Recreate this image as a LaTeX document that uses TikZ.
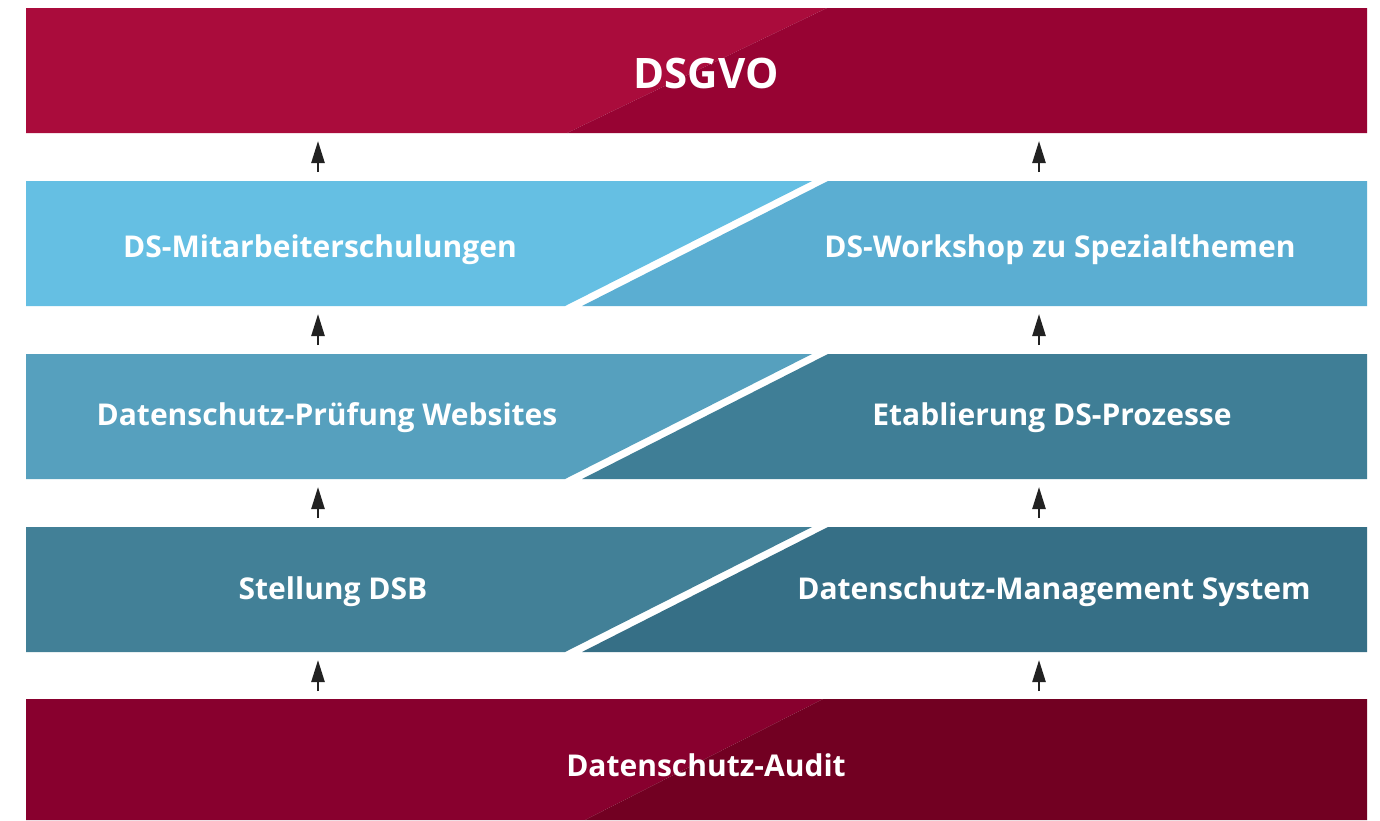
\documentclass[tikz,border=0pt]{standalone}
\usepackage{fontspec}
\setmainfont{Open Sans}
\usetikzlibrary{arrows.meta}
\definecolor{topL}{HTML}{AA0C3C}
\definecolor{topR}{HTML}{970333}
\definecolor{botL}{HTML}{88002E}
\definecolor{botR}{HTML}{720022}
\definecolor{bAL}{HTML}{65BFE3}
\definecolor{bAR}{HTML}{5BAED2}
\definecolor{bBL}{HTML}{56A0BE}
\definecolor{bBR}{HTML}{3F7E96}
\definecolor{bCL}{HTML}{428097}
\definecolor{bCR}{HTML}{366F86}
\definecolor{arrc}{HTML}{222222}
\tikzset{
  lbl/.style={text=white,font=\bfseries\fontsize{30}{36}\selectfont,inner sep=0pt},
  biglbl/.style={text=white,font=\bfseries\fontsize{42}{48}\selectfont,inner sep=0pt},
  arr/.style={draw=arrc,line width=2.4pt,-{Triangle[width=13pt,length=22pt]}}
}
\begin{document}
\begin{tikzpicture}[x=1pt,y=-1pt]
\useasboundingbox[fill=white] (0,0) rectangle (1380,820);
% top band
\fill[topL] (26,8) -- (827,8) -- (567,133) -- (26,133) -- cycle;
\fill[topR] (827,8) -- (1367,8) -- (1367,133) -- (567,133) -- cycle;
% band A
\fill[bAL] (26,181) -- (812,181) -- (565,306) -- (26,306) -- cycle;
\fill[bAR] (828,181) -- (1367,181) -- (1367,306) -- (582,306) -- cycle;
% band B
\fill[bBL] (26,354) -- (812,354) -- (565,479) -- (26,479) -- cycle;
\fill[bBR] (828,354) -- (1367,354) -- (1367,479) -- (582,479) -- cycle;
% band C
\fill[bCL] (26,527) -- (812,527) -- (565,652) -- (26,652) -- cycle;
\fill[bCR] (828,527) -- (1367,527) -- (1367,652) -- (582,652) -- cycle;
% bottom band
\fill[botL] (26,699) -- (823,699) -- (585,820) -- (26,820) -- cycle;
\fill[botR] (823,699) -- (1367,699) -- (1367,820) -- (585,820) -- cycle;
% labels
\node[biglbl] (dsgvo) at (706,73) {DSGVO};
\node[lbl] (a1) at (320,250) {DS-Mitarbeiterschulungen};
\node[lbl] (a2) at (1060,250) {DS-Workshop zu Spezialthemen};
\node[lbl] (b1) at (327,418) {Datenschutz-Prüfung Websites};
\node[lbl] (b2) at (1052,418) {Etablierung DS-Prozesse};
\node[lbl] (c1) at (333,592) {Stellung DSB};
\node[lbl] (c2) at (1054,592) {Datenschutz-Management System};
\node[lbl] (audit) at (706,765) {Datenschutz-Audit};
% arrows
\foreach \i/\ys in {1/172,2/345,3/518,4/691}{
  \coordinate (l\i s) at (318,\ys);
  \coordinate (l\i e) at (318,\ys-31);
  \coordinate (r\i s) at (1039,\ys);
  \coordinate (r\i e) at (1039,\ys-31);
  \draw[arr] (l\i s) -- (l\i e);
  \draw[arr] (r\i s) -- (r\i e);
}
\end{tikzpicture}
\end{document}
